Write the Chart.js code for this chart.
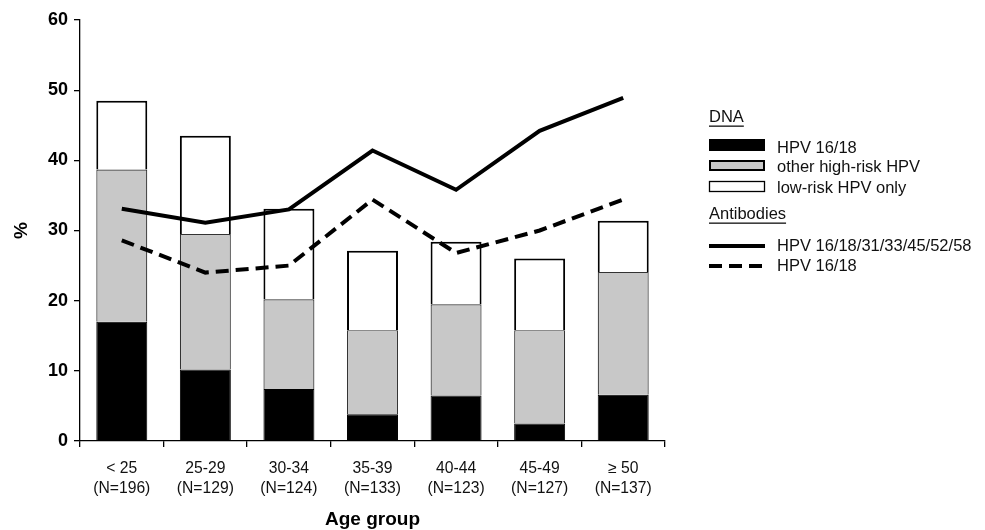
<!DOCTYPE html>
<html>
<head>
<meta charset="utf-8">
<script src="https://cdn.jsdelivr.net/npm/chart.js@4.4.1/dist/chart.umd.min.js"></script>
<style>
  html, body { margin: 0; padding: 0; background: #fff; }
  #wrap { width: 985px; height: 530px; position: relative; }
</style>
</head>
<body>
<div id="wrap"><canvas id="hpvChart" width="985" height="530"></canvas></div>
<script>
// Age groups (two-line tick labels)
const ageGroups = ["< 25", "25-29", "30-34", "35-39", "40-44", "45-49", "\u2265 50"];
const groupSizes = ["(N=196)", "(N=129)", "(N=124)", "(N=133)", "(N=123)", "(N=127)", "(N=137)"];

// DNA prevalence, stacked segments (%)
const dnaHpv1618 = [17.0, 10.2, 7.4, 3.8, 6.5, 2.5, 6.6];
const dnaOtherHighRisk = [21.7, 19.3, 12.8, 12.0, 13.0, 13.3, 17.5];
const dnaLowRiskOnly = [9.8, 14.0, 12.9, 11.3, 8.9, 10.2, 7.3];

// Antibody seroprevalence (%)
const abHighRisk = [33.1, 31.1, 33.0, 41.4, 35.8, 44.2, 48.9];
const abHpv1618 = [28.6, 24.0, 25.0, 34.4, 26.8, 30.0, 34.4];

const yTicks = [0, 10, 20, 30, 40, 50, 60];

const fontFamily = "'Liberation Sans', Arial, Helvetica, sans-serif";

// Legend drawn next to the plot, with the two group headers
const sideLegend = {
  id: "sideLegend",
  afterDraw(chart) {
    const c = chart.ctx;
    const x0 = chart.chartArea.right + 44;
    const tx = x0 + 68;
    c.save();
    c.textBaseline = "middle";

    function header(text, y) {
      c.font = "16.5px " + fontFamily;
      c.fillStyle = "#111";
      c.fillText(text, x0, y);
      const w = c.measureText(text).width;
      c.fillRect(x0, y + 8.5, w, 1.3);
    }
    function label(text, y) {
      c.font = "16.5px " + fontFamily;
      c.fillStyle = "#111";
      c.fillText(text, tx, y);
    }

    header("DNA", 117);

    c.fillStyle = "#000";
    c.fillRect(x0, 139, 56, 12);
    label("HPV 16/18", 148);

    c.fillStyle = "#c8c8c8";
    c.fillRect(x0, 160, 56, 11);
    c.strokeStyle = "#000";
    c.lineWidth = 2;
    c.strokeRect(x0 + 1, 161, 54, 9);
    label("other high-risk HPV", 167);

    c.fillStyle = "#fff";
    c.fillRect(x0, 181, 56, 11);
    c.lineWidth = 1.3;
    c.strokeRect(x0 + 0.5, 181.5, 55, 10);
    label("low-risk HPV only", 188);

    header("Antibodies", 214);

    c.strokeStyle = "#000";
    c.lineWidth = 4;
    c.beginPath();
    c.moveTo(x0, 246);
    c.lineTo(x0 + 56, 246);
    c.stroke();
    label("HPV 16/18/31/33/45/52/58", 246);

    c.setLineDash([13, 7]);
    c.beginPath();
    c.moveTo(x0, 266);
    c.lineTo(x0 + 56, 266);
    c.stroke();
    c.setLineDash([]);
    label("HPV 16/18", 266);

    c.restore();
  }
};

const ctx = document.getElementById("hpvChart").getContext("2d");
new Chart(ctx, {
  data: {
    labels: ageGroups.map((a, i) => [a, groupSizes[i]]),
    datasets: [
      {
        type: "line",
        label: "HPV 16/18/31/33/45/52/58",
        data: abHighRisk,
        stack: "ab1",
        borderColor: "#000",
        borderWidth: 4,
        pointRadius: 0,
        tension: 0,
        order: 0
      },
      {
        type: "line",
        label: "HPV 16/18 antibodies",
        data: abHpv1618,
        stack: "ab2",
        borderColor: "#000",
        borderWidth: 4,
        borderDash: [13, 7],
        pointRadius: 0,
        tension: 0,
        order: 0
      },
      {
        type: "bar",
        label: "HPV 16/18",
        data: dnaHpv1618,
        stack: "dna",
        backgroundColor: "#000",
        borderColor: "#000",
        borderWidth: 1,
        order: 1
      },
      {
        type: "bar",
        label: "other high-risk HPV",
        data: dnaOtherHighRisk,
        stack: "dna",
        backgroundColor: "#c8c8c8",
        borderColor: "#333",
        borderWidth: 1.2,
        order: 1
      },
      {
        type: "bar",
        label: "low-risk HPV only",
        data: dnaLowRiskOnly,
        stack: "dna",
        backgroundColor: "#fff",
        borderColor: "#000",
        borderWidth: 2,
        order: 1
      }
    ]
  },
  options: {
    responsive: false,
    animation: false,
    layout: { padding: { top: 20, right: 320, left: 0, bottom: 0 } },
    datasets: { bar: { barPercentage: 0.61, categoryPercentage: 1.0 } },
    plugins: {
      legend: { display: false },
      tooltip: { enabled: false }
    },
    scales: {
      x: {
        stacked: true,
        offset: true,
        border: { color: "#000", width: 1.3 },
        grid: {
          offset: true,
          drawOnChartArea: false,
          drawTicks: true,
          tickLength: 6,
          color: "#000",
          lineWidth: 1.3
        },
        ticks: {
          color: "#111",
          padding: 12,
          maxRotation: 0,
          autoSkip: false,
          font: { family: fontFamily, size: 15.7, lineHeight: 1.25 }
        },
        title: {
          display: true,
          text: "Age group",
          color: "#000",
          padding: { top: 0, bottom: 0 },
          font: { family: fontFamily, size: 19, weight: "bold", lineHeight: 1.1 }
        },
        afterFit(scale) { scale.height = 89; }
      },
      y: {
        stacked: true,
        min: yTicks[0],
        max: yTicks[yTicks.length - 1],
        border: { color: "#000", width: 1.3 },
        grid: {
          drawOnChartArea: false,
          drawTicks: true,
          tickLength: 6,
          color: "#000",
          lineWidth: 1.3
        },
        afterBuildTicks(scale) {
          scale.ticks = yTicks.map(v => ({ value: v }));
        },
        ticks: {
          color: "#000",
          padding: 6,
          font: { family: fontFamily, size: 18, weight: "bold" }
        },
        title: {
          display: true,
          text: "%",
          color: "#000",
          padding: { top: 10, bottom: 0 },
          font: { family: fontFamily, size: 19, weight: "bold" }
        },
        afterFit(scale) { scale.width = 80; }
      }
    }
  },
  plugins: [sideLegend]
});
</script>
</body>
</html>
